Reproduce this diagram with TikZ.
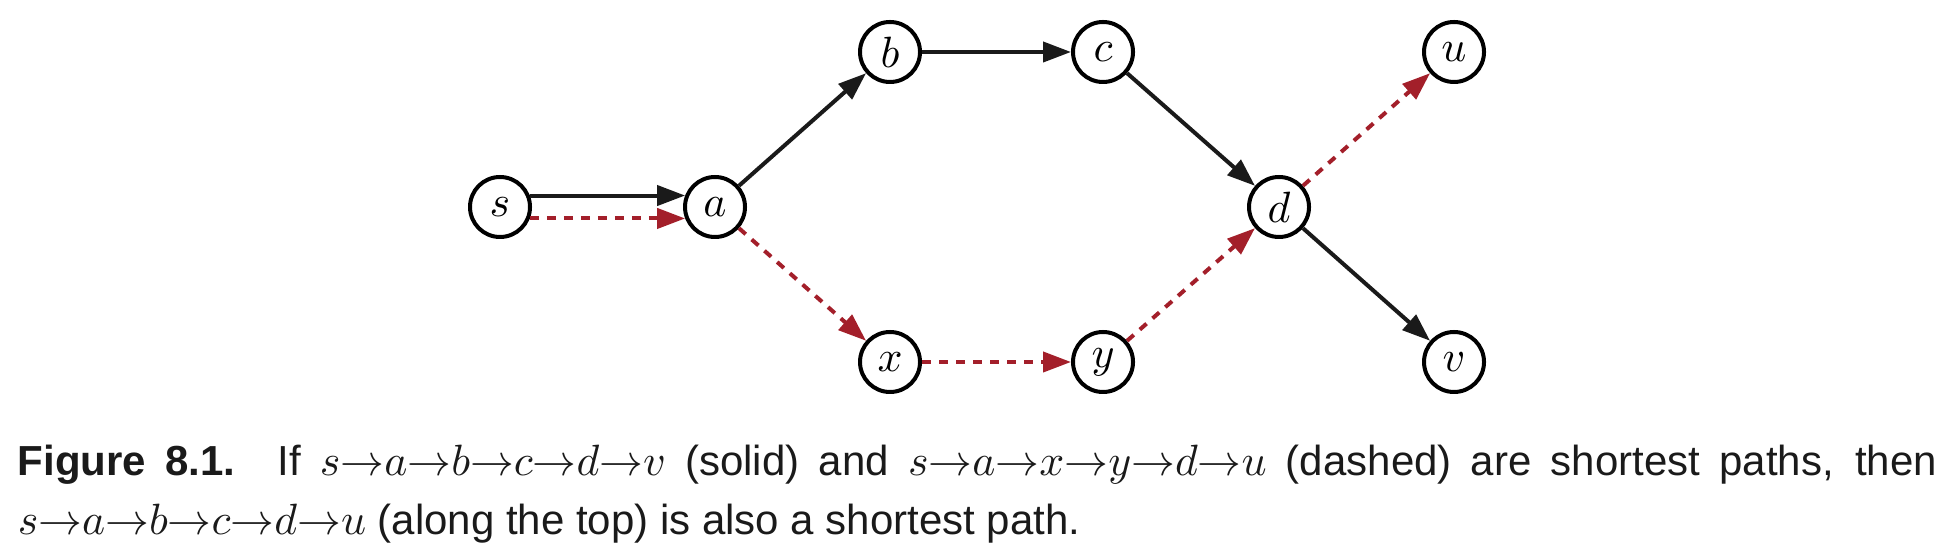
\documentclass[tikz,border=0pt]{standalone}
\usepackage{fontspec}
\newfontfamily\capfont{Liberation Sans}
\usetikzlibrary{arrows.meta}
\definecolor{pathred}{RGB}{163,31,42}
\definecolor{inkblack}{RGB}{26,26,26}
\tikzset{
  vtx/.style={circle,draw=black,line width=1pt,minimum size=15pt,inner sep=0pt,fill=white,font=\fontsize{11}{13}\selectfont},
  solidarc/.style={draw=inkblack,line width=1pt,-{Triangle[length=7pt,width=5pt]}},
  dasharc/.style={draw=pathred,line width=1pt,dash pattern=on 2.25pt off 2pt,-{Triangle[length=7pt,width=5pt,fill=pathred]}},
  captxt/.style={anchor=base west,inner sep=0pt,font=\capfont\fontsize{10.5}{14}\selectfont,text=inkblack}
}
\begin{document}
\begin{tikzpicture}[x=0.25pt,y=-0.25pt]
\useasboundingbox (0,0) rectangle (1954,554);
\node[vtx] (s) at (500,207) {$s$};
\node[vtx] (a) at (715,207) {$a$};
\node[vtx] (b) at (890,52) {$b$};
\node[vtx] (c) at (1103,52) {$c$};
\node[vtx] (u) at (1454,52) {$u$};
\node[vtx] (d) at (1279,207) {$d$};
\node[vtx] (x) at (890,362) {$x$};
\node[vtx] (y) at (1103,362) {$y$};
\node[vtx] (v) at (1454,362) {$v$};
\draw[solidarc] (s.21) -- (a.159);
\draw[dasharc] (s.-21) -- (a.-159);
\draw[solidarc] (a) -- (b);
\draw[solidarc] (b) -- (c);
\draw[solidarc] (c) -- (d);
\draw[solidarc] (d) -- (v);
\draw[dasharc] (a) -- (x);
\draw[dasharc] (x) -- (y);
\draw[dasharc] (y) -- (d);
\draw[dasharc] (d) -- (u);
\node[captxt] (cap1) at (17,476) {\makebox[479.75pt][s]{\textbf{Figure 8.1.}\hspace{1em}If $s{\to}a{\to}b{\to}c{\to}d{\to}v$ (solid) and $s{\to}a{\to}x{\to}y{\to}d{\to}u$ (dashed) are shortest paths, then}};
\node[captxt] (cap2) at (17,534) {$s{\to}a{\to}b{\to}c{\to}d{\to}u$ (along the top) is also a shortest path.};
\end{tikzpicture}
\end{document}
